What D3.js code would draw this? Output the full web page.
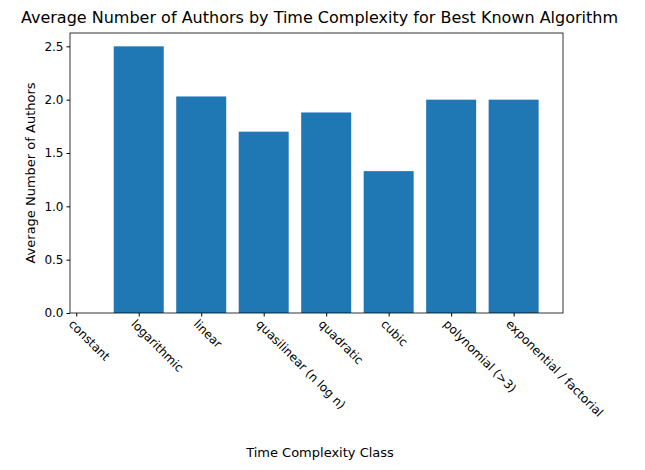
<!DOCTYPE html>
<html><head><meta charset="utf-8">
<script src="https://cdn.jsdelivr.net/npm/d3@7"></script>
<style>body{margin:0;background:#fff}text{font-family:"DejaVu Sans",sans-serif}</style>
</head><body>
<script>
const categories = ["constant","logarithmic","linear","quasilinear (n log n)","quadratic","cubic","polynomial (>3)","exponential / factorial"];
const values = [0, 2.5, 2.03, 1.7, 1.88, 1.33, 2.0, 2.0];
const yTicks = [0, 0.5, 1.0, 1.5, 2.0, 2.5];

const width = 645, height = 470;
const margin = {top: 33, right: 82, bottom: 157, left: 70};

let svg = d3.select("body").append("svg").attr("width", width).attr("height", height);

let x = d3.scaleLinear().domain([-0.1, 7.79]).range([margin.left, width - margin.right]);
let y = d3.scaleLinear().domain([0, 2.625]).range([height - margin.bottom, margin.top]);

svg.selectAll("rect.bar").data(values).join("rect")
  .attr("class", "bar")
  .attr("x", (d, i) => x(i - 0.4))
  .attr("width", x(0.8) - x(0))
  .attr("y", d => y(d))
  .attr("height", d => y(0) - y(d))
  .attr("fill", "#1f77b4");

let xAxis = svg.append("g").attr("transform", `translate(0,${height - margin.bottom})`)
  .call(d3.axisBottom(x).tickValues(d3.range(categories.length)).tickFormat(i => categories[i]).tickSizeOuter(0).tickSize(3.5));
xAxis.selectAll("text").attr("font-size", 12).attr("fill", "#000")
  .attr("text-anchor", "start").attr("transform", "rotate(45)").attr("dx", 2).attr("dy", 8);

let yAxis = svg.append("g").attr("transform", `translate(${margin.left},0)`)
  .call(d3.axisLeft(y).tickValues(yTicks).tickFormat(d3.format(".1f")).tickSizeOuter(0).tickSize(3.5));
yAxis.selectAll("text").attr("font-size", 12).attr("fill", "#000");

svg.selectAll(".domain").remove();
svg.append("rect").attr("x", margin.left).attr("y", margin.top)
  .attr("width", width - margin.left - margin.right).attr("height", height - margin.top - margin.bottom)
  .attr("fill", "none").attr("stroke", "#000").attr("stroke-width", 0.8);

svg.append("text").attr("x", (margin.left + width - margin.right) / 2 + 3).attr("y", 23)
  .attr("text-anchor", "middle").attr("font-size", 16).text("Average Number of Authors by Time Complexity for Best Known Algorithm");
svg.append("text").attr("x", 320).attr("y", 457).attr("text-anchor", "middle").attr("font-size", 13).text("Time Complexity Class");
svg.append("text").attr("transform", `translate(35,${(margin.top + height - margin.bottom) / 2}) rotate(-90)`)
  .attr("text-anchor", "middle").attr("font-size", 13).text("Average Number of Authors");
</script>
</body></html>
